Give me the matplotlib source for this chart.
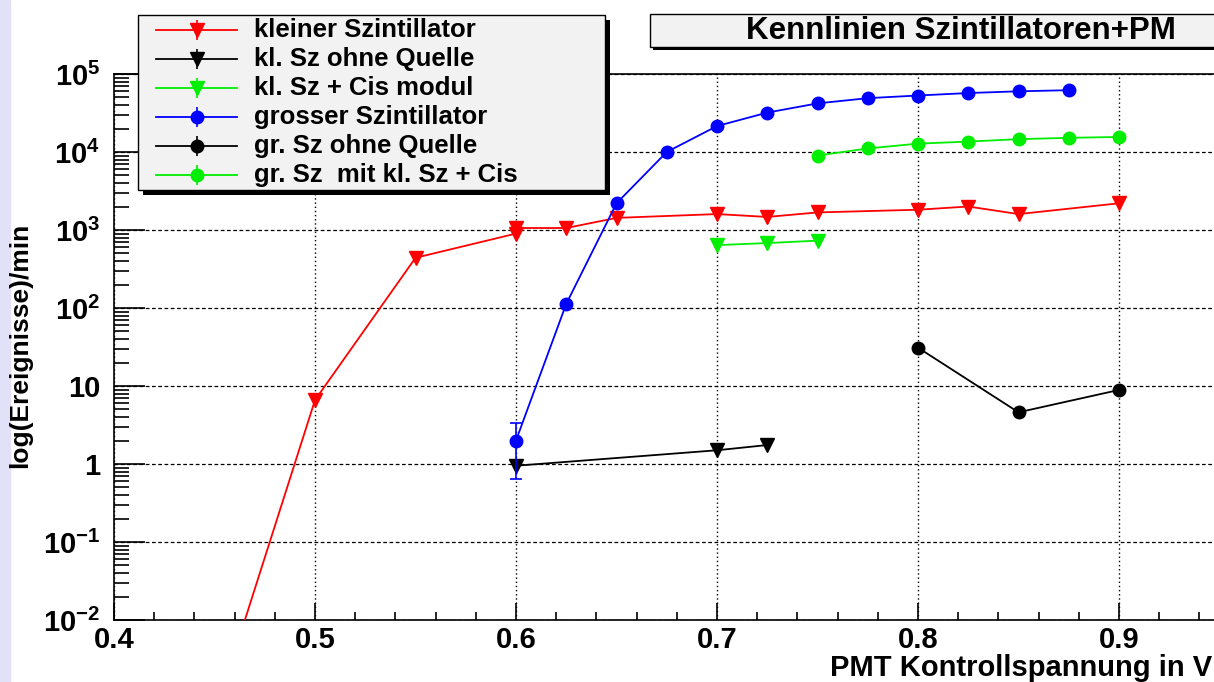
import matplotlib
matplotlib.use('Agg')
import matplotlib.pyplot as plt
from matplotlib.patches import Rectangle
from matplotlib.lines import Line2D

plt.rcParams['font.family'] = ['Liberation Sans', 'DejaVu Sans']
plt.rcParams['font.weight'] = 'bold'
plt.rcParams['mathtext.fontset'] = 'custom'
plt.rcParams['mathtext.rm'] = 'Liberation Sans:bold'
plt.rcParams['mathtext.it'] = 'Liberation Sans:bold'
plt.rcParams['mathtext.bf'] = 'Liberation Sans:bold'

# daten
red_x = [0.45, 0.5, 0.55, 0.6, 0.6, 0.625, 0.65, 0.7, 0.725, 0.75, 0.8, 0.825, 0.85, 0.9]
red_y = [6e-4, 6.6, 440, 900, 1060, 1060, 1430, 1600, 1470, 1680, 1820, 2000, 1600, 2200]
blk_tri_x = [0.6, 0.7, 0.725]
blk_tri_y = [0.95, 1.5, 1.75]
grn_tri_x = [0.7, 0.725, 0.75]
grn_tri_y = [640, 680, 730]
blue_x = [0.6, 0.625, 0.65, 0.675, 0.7, 0.725, 0.75, 0.775, 0.8, 0.825, 0.85, 0.875]
blue_y = [2.0, 113, 2200, 1.0e4, 2.15e4, 3.2e4, 4.2e4, 4.9e4, 5.3e4, 5.7e4, 6.0e4, 6.2e4]
blue_err_lo = [1.35, 0, 0, 0, 0, 0, 0, 0, 0, 0, 0, 0]
blue_err_hi = [1.4, 0, 0, 0, 0, 0, 0, 0, 0, 0, 0, 0]
blk_circ_x = [0.8, 0.85, 0.9]
blk_circ_y = [31, 4.6, 8.9]
grn_circ_x = [0.75, 0.775, 0.8, 0.825, 0.85, 0.875, 0.9]
grn_circ_y = [9.0e3, 1.11e4, 1.28e4, 1.36e4, 1.46e4, 1.52e4, 1.56e4]

labels = ['kleiner Szintillator', 'kl. Sz ohne Quelle', 'kl. Sz + Cis modul',
          'grosser Szintillator', 'gr. Sz ohne Quelle', 'gr. Sz  mit kl. Sz + Cis']
colors = ['#ff0000', '#000000', '#00ee00', '#0000ff', '#000000', '#00ee00']
markers = ['v', 'v', 'v', 'o', 'o', 'o']

xticks = [0.4, 0.5, 0.6, 0.7, 0.8, 0.9]
xtick_labels = ['0.4', '0.5', '0.6', '0.7', '0.8', '0.9']
yticks = [1e-2, 1e-1, 1, 10, 1e2, 1e3, 1e4, 1e5]
ytick_labels = [r'$10^{-2}$', r'$10^{-1}$', '1', '10', r'$10^{2}$', r'$10^{3}$', r'$10^{4}$', r'$10^{5}$']

W, H = 1214, 682
fig = plt.figure(figsize=(W / 100, H / 100), dpi=100)
fig.patches.append(Rectangle((0, 0), 10 / W, 1, transform=fig.transFigure,
                             color='#e1e1f8', zorder=0))


def fx(px):
    return px / W


def fy(py):
    return 1 - py / H


ax = fig.add_axes([fx(114), fy(620), (W - 114) / W, (620 - 74) / H])
ax.set_yscale('log')
ax.set_xlim(0.4, 0.4 + (W - 114) / 2010)
ax.set_ylim(1e-2, 1e5)

series = [(red_x, red_y), (blk_tri_x, blk_tri_y), (grn_tri_x, grn_tri_y),
          (blue_x, blue_y), (blk_circ_x, blk_circ_y), (grn_circ_x, grn_circ_y)]
for i, (xs, ys) in enumerate(series):
    ms = 10 if markers[i] == 'v' else 9
    if i == 3:
        ax.errorbar(xs, ys, yerr=[blue_err_lo, blue_err_hi], color=colors[i],
                    marker=markers[i], ms=ms, lw=1.3, elinewidth=1.2,
                    capsize=4, capthick=1.2, zorder=3)
    else:
        ax.plot(xs, ys, color=colors[i], marker=markers[i], ms=ms, lw=1.3, zorder=3)

ax.set_xticks(xticks)
ax.set_xticklabels(xtick_labels)
ax.set_yticks(yticks)
ax.set_yticklabels(ytick_labels)
ax.xaxis.set_minor_locator(matplotlib.ticker.MultipleLocator(0.02))
ax.yaxis.set_minor_locator(matplotlib.ticker.LogLocator(base=10, subs=range(2, 10), numticks=20))
ax.yaxis.set_minor_formatter(matplotlib.ticker.NullFormatter())
ax.tick_params(axis='both', which='both', direction='in', width=1.2, labelsize=21)
ax.tick_params(axis='y', which='major', length=22, pad=10)
ax.tick_params(axis='y', which='minor', length=11)
ax.tick_params(axis='x', which='major', length=12, pad=4)
ax.tick_params(axis='x', which='minor', length=6)
ax.xaxis.grid(True, which='major', color='black', linestyle=(0, (1, 2)), linewidth=1)
ax.yaxis.grid(True, which='major', color='black', linestyle=(0, (3, 2)), linewidth=0.9)
ax.spines['right'].set_visible(False)
for s in ['left', 'top', 'bottom']:
    ax.spines[s].set_linewidth(1.2)

fig.text(fx(1212), fy(668), 'PMT Kontrollspannung in V', ha='right', va='center',
         fontsize=21, fontweight='bold')
fig.text(fx(20), fy(345), 'log(Ereignisse)/min', ha='center', va='center',
         rotation=90, fontsize=19, fontweight='bold')

# legende
lx0, lx1, ly0, ly1 = 138, 605, 15, 190
fig.patches.append(Rectangle((fx(lx0 + 5), fy(ly1 + 5)), (lx1 - lx0) / W, (ly1 - ly0) / H,
                             transform=fig.transFigure, facecolor='black', zorder=5))
fig.patches.append(Rectangle((fx(lx0), fy(ly1)), (lx1 - lx0) / W, (ly1 - ly0) / H,
                             transform=fig.transFigure, facecolor='#f2f2f2',
                             edgecolor='black', lw=1, zorder=6))
for i, lab in enumerate(labels):
    yy = fy(30 + i * 29)
    fig.add_artist(Line2D([fx(156), fx(237)], [yy, yy], color=colors[i], lw=1.3,
                          transform=fig.transFigure, zorder=7))
    fig.add_artist(Line2D([fx(197)], [yy], color=colors[i], marker='|', ms=14, mew=1.2,
                          transform=fig.transFigure, zorder=7))
    fig.add_artist(Line2D([fx(197)], [yy], color=colors[i], marker=markers[i],
                          ms=10 if markers[i] == 'v' else 9, transform=fig.transFigure, zorder=7))
    fig.text(fx(254), yy, lab, ha='left', va='center', fontsize=18.5,
             fontweight='bold', zorder=8)

# titel
tx0, ty0, ty1 = 650, 14, 47
fig.patches.append(Rectangle((fx(tx0 + 3), fy(ty1 + 3)), 1, (ty1 - ty0) / H,
                             transform=fig.transFigure, facecolor='black', zorder=5))
fig.patches.append(Rectangle((fx(tx0), fy(ty1)), 1, (ty1 - ty0) / H,
                             transform=fig.transFigure, facecolor='#f2f2f2',
                             edgecolor='black', lw=1, zorder=6))
fig.text(fx(961), fy(31), 'Kennlinien Szintillatoren+PM', ha='center', va='center',
         fontsize=22.5, fontweight='bold', zorder=8)

fig.savefig('out.png', dpi=100)
